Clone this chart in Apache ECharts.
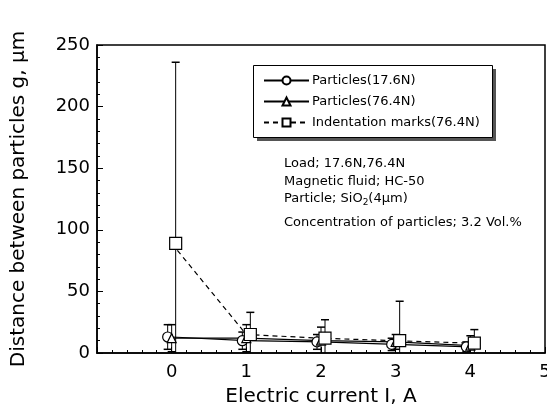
<!DOCTYPE html>
<html><head><meta charset="utf-8">
<script src="https://cdn.jsdelivr.net/npm/echarts@6/dist/echarts.min.js"></script>
<style>html,body{margin:0;padding:0;background:#fff}#c{width:547px;height:408px}</style>
</head><body><div id="c"></div>
<script>
const currents = [0, 1, 2, 3, 4];
const circleVals = [13, 10, 9, 7, 5];
const circleErr = [10, 7, 6, 5, 4];
const triVals = [12, 12, 10, 9, 6];
const triErr = [11, 11, 11, 6, 8];
const squareVals = [89, 15, 12, 10, 8];
const squareErr = [147, 18, 15, 32, 11];
const seriesNames = ['Particles(17.6N)', 'Particles(76.4N)', 'Indentation marks(76.4N)'];
const annotations = ['Load; 17.6N,76.4N', 'Magnetic fluid; HC-50', 'Particle; SiO{sub|2}(4{mu|μ}m)', 'Concentration of particles; 3.2 Vol.%'];
const xTitle = 'Electric current I, A';
const yTitle = 'Distance between particles g, μm';

const FONT = 'DejaVu Sans';
const chart = echarts.init(document.getElementById('c'), null, {renderer: 'canvas'});

function errSeries(vals, errs, dx) {
  return {
    type: 'custom', silent: true, clip: true, z: 1,
    data: currents.map((x, i) => [x, vals[i], errs[i]]),
    encode: {x: 0, y: 1},
    renderItem(params, api) {
      const x = api.value(0), v = api.value(1), e = api.value(2);
      const top = api.coord([x, v + e]);
      const low = v - e;
      const bot = api.coord([x, Math.max(low, 0)]);
      const px = top[0] + dx;
      const st = {stroke: '#000', lineWidth: 1};
      const ch = [
        {type: 'line', shape: {x1: px, y1: top[1], x2: px, y2: bot[1]}, style: st},
        {type: 'line', shape: {x1: px - 4, y1: top[1], x2: px + 4, y2: top[1]}, style: {stroke: '#000', lineWidth: 1.5}}
      ];
      if (low > 0) ch.push({type: 'line', shape: {x1: px - 4, y1: bot[1], x2: px + 4, y2: bot[1]}, style: {stroke: '#000', lineWidth: 1.5}});
      return {type: 'group', children: ch};
    }
  };
}

function lineSeries(name, vals, symbol, size, offset, lineType) {
  return {
    name, type: 'line', z: 3,
    data: currents.map((x, i) => [x, vals[i]]),
    symbol, symbolSize: size, symbolOffset: offset, showSymbol: true,
    itemStyle: {color: '#fff', borderColor: '#000', borderWidth: 1.2},
    lineStyle: {color: '#000', width: 1.2, type: lineType},
    emphasis: {disabled: true}, animation: false
  };
}

const option = {
  backgroundColor: '#fff',
  animation: false,
  grid: {left: 97, right: 2, top: 45, bottom: 55, outerBoundsMode: 'none', containLabel: false, show: true, borderColor: '#000', borderWidth: 1.5, backgroundColor: 'transparent'},
  xAxis: {
    type: 'value', min: -1, max: 5, interval: 1,
    name: xTitle, nameLocation: 'middle', nameGap: 34,
    nameTextStyle: {fontFamily: FONT, fontSize: 20, color: '#000'},
    axisLine: {show: true, onZero: false, lineStyle: {color: '#000', width: 1.5}},
    axisTick: {show: true, inside: true, length: 6, lineStyle: {color: '#000'}},
    minorTick: {show: true, splitNumber: 5, length: 3, lineStyle: {color: '#000'}},
    splitLine: {show: false},
    axisLabel: {fontFamily: FONT, fontSize: 18, color: '#000', margin: 10, formatter: v => (v < 0 ? '' : String(v))}
  },
  yAxis: {
    type: 'value', min: 0, max: 250, interval: 50,
    name: yTitle, nameLocation: 'middle', nameGap: 68, nameRotate: 90,
    nameTextStyle: {fontFamily: FONT, fontSize: 20, color: '#000'},
    axisLine: {show: true, onZero: false, lineStyle: {color: '#000', width: 1.5}},
    axisTick: {show: true, inside: true, length: 6, lineStyle: {color: '#000'}},
    minorTick: {show: true, splitNumber: 5, length: 3, lineStyle: {color: '#000'}},
    splitLine: {show: false},
    axisLabel: {fontFamily: FONT, fontSize: 18, color: '#000', margin: 7}
  },
  legend: {
    orient: 'vertical', left: 263, top: 74, padding: 0, itemWidth: 45, itemHeight: 10, itemGap: 8,
    data: seriesNames, selectedMode: false,
    textStyle: {fontFamily: FONT, fontSize: 13, color: '#000', padding: [0, 0, 0, -2]}
  },
  graphic: [
    {type: 'rect', left: 257, top: 69, shape: {width: 239, height: 72}, style: {fill: '#555'}, z: -1},
    {type: 'rect', left: 253, top: 65, shape: {width: 239, height: 72}, style: {fill: '#fff', stroke: '#000', lineWidth: 1}, z: 0},
    ...annotations.map((t, i) => ({
      type: 'text', left: 284, top: [157, 175, 192, 216][i], z: 5,
      style: {
        text: t, fill: '#000', font: '13px "DejaVu Sans"',
        rich: {
          sub: {fontSize: 9, fontFamily: FONT, fill: '#000', padding: [9, 0, 0, 0]},
          mu: {fontSize: 13, fontFamily: FONT, fill: '#000'}
        }
      }
    }))
  ],
  series: [
    errSeries(squareVals, squareErr, 4),
    errSeries(triVals, triErr, 0),
    errSeries(circleVals, circleErr, -4),
    lineSeries(seriesNames[0], circleVals, 'circle', 10, [-4, 0], 'solid'),
    lineSeries(seriesNames[1], triVals, 'triangle', 9, [0, 0], 'solid'),
    lineSeries(seriesNames[2], squareVals, 'rect', 12, [4, 0], [5, 4])
  ]
};
chart.setOption(option);
</script></body></html>
